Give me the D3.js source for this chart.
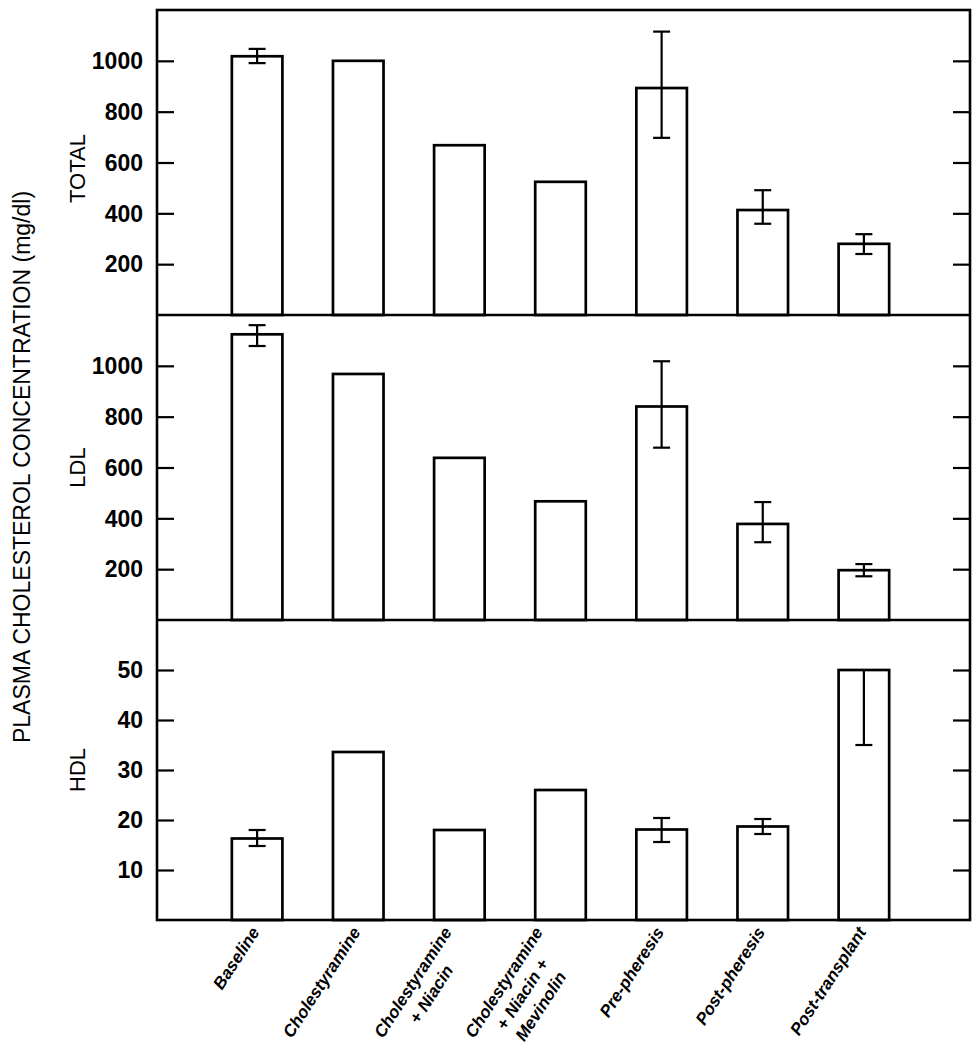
<!DOCTYPE html>
<html>
<head>
<meta charset="utf-8">
<script src="https://cdn.jsdelivr.net/npm/d3@7"></script>
<style>
  html, body { margin: 0; padding: 0; background: #fff; }
  svg { display: block; }
  text { fill: #000; font-family: "Liberation Sans", Arial, Helvetica, sans-serif; }
</style>
</head>
<body>
<svg id="chart" width="977" height="1050"></svg>
<script>
// ---------- data ----------
const categories = [
  ["Baseline"],
  ["Cholestyramine"],
  ["Cholestyramine", "+ Niacin"],
  ["Cholestyramine", "+ Niacin +", "Mevinolin"],
  ["Pre-pheresis"],
  ["Post-pheresis"],
  ["Post-transplant"]
];
const categoryKeys = ["Baseline", "Cholestyramine", "Chol+Niacin", "Chol+Niacin+Mevinolin",
                      "Pre-pheresis", "Post-pheresis", "Post-transplant"];

const totalValues   = [1018, 1000, 668, 524, 893, 413, 280];
const totalErrUp    = [29, null, null, null, 222, 78, 38];
const totalErrDown  = [27, null, null, null, 196, 54, 40];

const ldlValues     = [1124, 968, 638, 467, 840, 378, 196];
const ldlErrUp      = [36, null, null, null, 178, 86, 24];
const ldlErrDown    = [46, null, null, null, 162, 72, 24];

const hdlValues     = [16.3, 33.6, 18.0, 26.0, 18.1, 18.7, 50];
const hdlErrUp      = [1.7, null, null, null, 2.3, 1.5, null];
const hdlErrDown    = [1.5, null, null, null, 2.5, 1.5, 15];

const totalTicks = [200, 400, 600, 800, 1000];
const ldlTicks   = [200, 400, 600, 800, 1000];
const hdlTicks   = [10, 20, 30, 40, 50];

const panelNames = ["TOTAL", "LDL", "HDL"];
const yTitle = "PLASMA CHOLESTEROL CONCENTRATION (mg/dl)";

// ---------- layout ----------
const svg = d3.select("#chart");
const frameLeft = 157, frameRight = 970;
const panelTops = [10, 315, 620];
const panelBottoms = [315, 620, 920];

const x = d3.scalePoint().domain(categoryKeys).range([156, 965]).padding(1);
const barW = x.step() * 0.5;

const panels = [
  { name: panelNames[0], values: totalValues, up: totalErrUp, down: totalErrDown, ticks: totalTicks, domain: [0, 1200] },
  { name: panelNames[1], values: ldlValues,   up: ldlErrUp,   down: ldlErrDown,   ticks: ldlTicks,   domain: [0, 1200] },
  { name: panelNames[2], values: hdlValues,   up: hdlErrUp,   down: hdlErrDown,   ticks: hdlTicks,   domain: [0, 60] }
];

panels.forEach((p, pi) => {
  const top = panelTops[pi], bottom = panelBottoms[pi];
  const y = d3.scaleLinear().domain(p.domain).range([bottom, top]);
  const g = svg.append("g");

  // bars
  g.selectAll("rect.bar")
    .data(p.values)
    .join("rect")
    .attr("class", "bar")
    .attr("x", (d, i) => x(categoryKeys[i]) - barW / 2)
    .attr("y", d => y(d))
    .attr("width", barW)
    .attr("height", d => bottom - y(d))
    .attr("fill", "#fff")
    .attr("stroke", "#000")
    .attr("stroke-width", 2.7);

  // error bars
  const cap = 17;
  p.values.forEach((v, i) => {
    const cx = x(categoryKeys[i]);
    const hi = p.up[i] != null ? v + p.up[i] : v;
    const lo = p.down[i] != null ? v - p.down[i] : v;
    if (p.up[i] == null && p.down[i] == null) return;
    g.append("line").attr("x1", cx).attr("x2", cx).attr("y1", y(hi)).attr("y2", y(lo))
      .attr("stroke", "#000").attr("stroke-width", 2.2);
    if (p.up[i] != null) {
      g.append("line").attr("x1", cx - cap / 2).attr("x2", cx + cap / 2)
        .attr("y1", y(hi)).attr("y2", y(hi)).attr("stroke", "#000").attr("stroke-width", 2.2);
    }
    if (p.down[i] != null) {
      g.append("line").attr("x1", cx - cap / 2).attr("x2", cx + cap / 2)
        .attr("y1", y(lo)).attr("y2", y(lo)).attr("stroke", "#000").attr("stroke-width", 2.2);
    }
  });

  // left axis (ticks inward)
  const leftAxis = d3.axisRight(y).tickValues(p.ticks).tickSize(17).tickFormat("");
  const la = g.append("g").attr("transform", `translate(${frameLeft},0)`).call(leftAxis);
  la.select(".domain").remove();
  la.selectAll("line").attr("stroke", "#000").attr("stroke-width", 2.2);

  // right axis (ticks inward)
  const rightAxis = d3.axisLeft(y).tickValues(p.ticks).tickSize(17).tickFormat("");
  const ra = g.append("g").attr("transform", `translate(${frameRight},0)`).call(rightAxis);
  ra.select(".domain").remove();
  ra.selectAll("line").attr("stroke", "#000").attr("stroke-width", 2.2);

  // tick labels
  g.selectAll("text.tl")
    .data(p.ticks)
    .join("text")
    .attr("class", "tl")
    .attr("x", 143)
    .attr("y", d => y(d))
    .attr("dy", "0.36em")
    .attr("text-anchor", "end")
    .attr("font-size", 23)
    .attr("font-weight", "bold")
    .text(d => d);

  // panel name
  g.append("text")
    .attr("transform", `translate(85,${(top + bottom) / 2 + (pi === 0 ? 6 : 0)}) rotate(-90)`)
    .attr("text-anchor", "middle")
    .attr("font-size", 22)
    .text(p.name);
});

// frame
svg.append("rect")
  .attr("x", frameLeft).attr("y", panelTops[0])
  .attr("width", frameRight - frameLeft).attr("height", panelBottoms[2] - panelTops[0])
  .attr("fill", "none").attr("stroke", "#000").attr("stroke-width", 2.6);
[315, 620].forEach(yy => {
  svg.append("line").attr("x1", frameLeft).attr("x2", frameRight)
    .attr("y1", yy).attr("y2", yy).attr("stroke", "#000").attr("stroke-width", 2.6);
});

// y title
svg.append("text")
  .attr("transform", `translate(30,467) rotate(-90)`)
  .attr("text-anchor", "middle")
  .attr("font-size", 23)
  .text(yTitle);

// x labels
const angle = -57;
const lineGap = 22;
categories.forEach((lines, i) => {
  const cx = x(categoryKeys[i]);
  const n = lines.length;
  const g = svg.append("g")
    .attr("transform", `translate(${cx + 3 - (n - 1) * 10},${932}) rotate(${angle})`);
  const first = g.append("text")
    .attr("x", 0)
    .attr("y", 0)
    .attr("text-anchor", "end")
    .attr("font-size", 17)
    .attr("font-weight", "bold")
    .attr("font-style", "italic")
    .text(lines[0]);
  const L = first.node().getComputedTextLength();
  for (let k = 1; k < n; k++) {
    g.append("text")
      .attr("x", -L / 2)
      .attr("y", k * lineGap)
      .attr("text-anchor", "middle")
      .attr("font-size", 17)
      .attr("font-weight", "bold")
      .attr("font-style", "italic")
      .text(lines[k]);
  }
});
</script>
</body>
</html>
